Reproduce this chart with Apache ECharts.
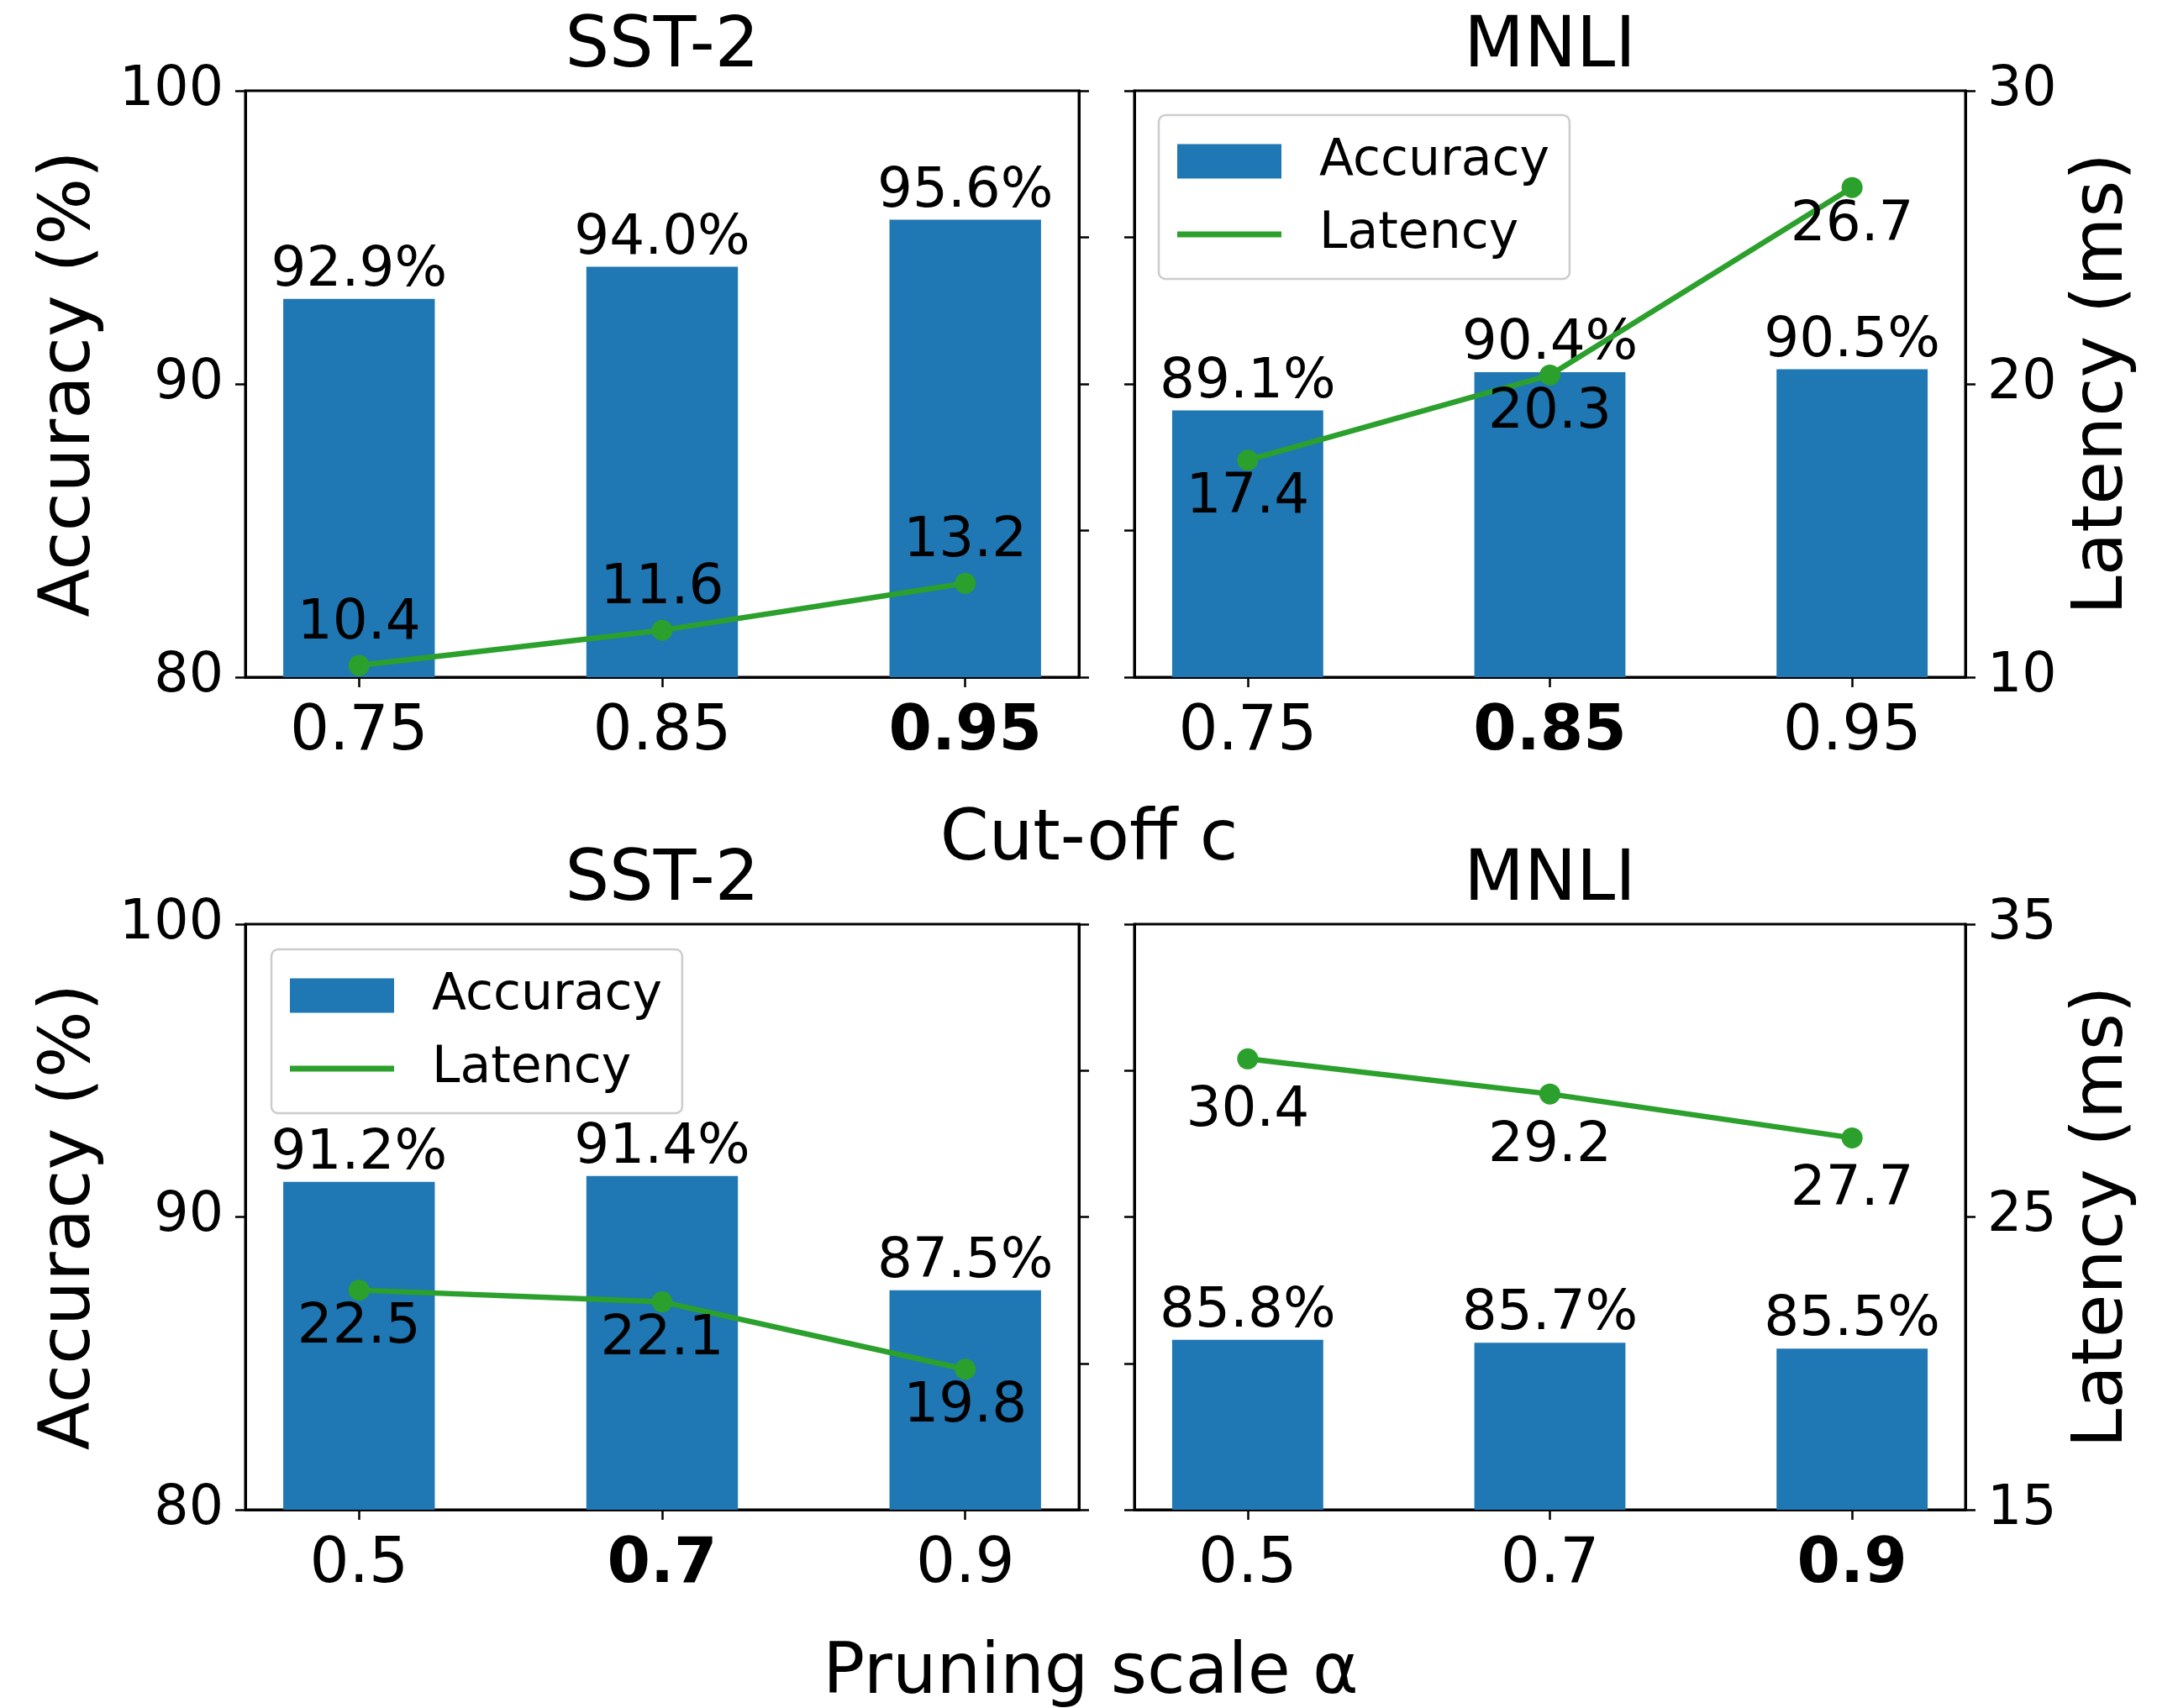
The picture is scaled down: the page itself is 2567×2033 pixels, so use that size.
<!DOCTYPE html>
<html>
<head>
<meta charset="utf-8">
<script src="https://cdn.jsdelivr.net/npm/echarts@6/dist/echarts.min.js"></script>
<style>
html,body{margin:0;padding:0;background:#fff;}
#chart{width:2567px;height:2033px;}
</style>
</head>
<body>
<div id="chart"></div>
<script>
// ---- data ----
const cutoffCats = ['0.75', '0.85', '0.95'];
const pruneCats = ['0.5', '0.7', '0.9'];
const sstCutAcc = [92.9, 94.0, 95.6];
const sstCutLat = [10.4, 11.6, 13.2];
const mnliCutAcc = [89.1, 90.4, 90.5];
const mnliCutLat = [17.4, 20.3, 26.7];
const sstPruneAcc = [91.2, 91.4, 87.5];
const sstPruneLat = [22.5, 22.1, 19.8];
const mnliPruneAcc = [85.8, 85.7, 85.5];
const mnliPruneLat = [30.4, 29.2, 27.7];
const accTicksRange = [80, 100];
const latRangeCut = [10, 30];
const latRangePrune = [15, 35];

const FONT = 'DejaVu Sans';
const BLUE = '#1f77b4';
const GREEN = '#2ca02c';

const panels = [
  {left: 292, top: 108, width: 992, height: 698, cats: cutoffCats, acc: sstCutAcc, lat: sstCutLat, latR: latRangeCut, isLeft: true, bold: 2, lpos: 'top', ldist: 4, title: 'SST-2'},
  {left: 1350, top: 108, width: 989, height: 698, cats: cutoffCats, acc: mnliCutAcc, lat: mnliCutLat, latR: latRangeCut, isLeft: false, bold: 1, lpos: 'bottom', ldist: 0, title: 'MNLI'},
  {left: 292, top: 1100, width: 992, height: 697, cats: pruneCats, acc: sstPruneAcc, lat: sstPruneLat, latR: latRangePrune, isLeft: true, bold: 1, lpos: 'bottom', ldist: 0, title: 'SST-2'},
  {left: 1350, top: 1100, width: 989, height: 697, cats: pruneCats, acc: mnliPruneAcc, lat: mnliPruneLat, latR: latRangePrune, isLeft: false, bold: 2, lpos: 'bottom', ldist: 17, title: 'MNLI'}
];

const XMIN = -0.375, XMAX = 2.375;
const grid = [], xAxis = [], yAxis = [], series = [], graphic = [];
const axisLineStyle = {color: '#000', width: 3};
const tickStyle = {color: '#000', width: 2.5};

panels.forEach((p, i) => {
  grid.push({left: p.left, top: p.top, width: p.width, height: p.height, show: true, borderColor: '#000', borderWidth: 3, backgroundColor: 'transparent'});
  xAxis.push({
    gridIndex: i, type: 'value', min: XMIN, max: XMAX,
    axisLine: {show: true, lineStyle: axisLineStyle, onZero: false},
    axisTick: {show: true, length: 12, lineStyle: tickStyle, customValues: [0, 1, 2]},
    axisLabel: {
      show: true, margin: 30, fontSize: 74, fontFamily: FONT, color: '#000',
      customValues: [0, 1, 2],
      formatter: (v) => { const k = Math.round(v); return k === p.bold ? '{b|' + p.cats[k] + '}' : p.cats[k]; },
      rich: {b: {fontSize: 74, fontWeight: 'bold', fontFamily: FONT, color: '#000'}}
    },
    splitLine: {show: false}
  });
  // accuracy axis (left)
  yAxis.push({
    gridIndex: i, type: 'value', position: 'left', min: accTicksRange[0], max: accTicksRange[1],
    interval: p.isLeft ? 10 : 5,
    axisLine: {show: true, lineStyle: axisLineStyle, onZero: false},
    axisTick: {show: true, length: 12, lineStyle: tickStyle},
    axisLabel: {show: p.isLeft, margin: 26, fontSize: 65, fontFamily: FONT, color: '#000'},
    splitLine: {show: false},
    name: p.isLeft ? 'Accuracy (%)' : '', nameLocation: 'middle', nameRotate: 90, nameGap: 166,
    nameTextStyle: {fontSize: 84, fontFamily: FONT, color: '#000'}
  });
  // latency axis (right)
  yAxis.push({
    gridIndex: i, type: 'value', position: 'right', min: p.latR[0], max: p.latR[1],
    interval: p.isLeft ? 5 : 10,
    axisLine: {show: true, lineStyle: axisLineStyle, onZero: false},
    axisTick: {show: true, length: 12, lineStyle: tickStyle},
    axisLabel: {show: !p.isLeft, margin: 26, fontSize: 65, fontFamily: FONT, color: '#000'},
    splitLine: {show: false},
    name: p.isLeft ? '' : 'Latency (ms)', nameLocation: 'middle', nameRotate: 90, nameGap: 122,
    nameTextStyle: {fontSize: 84, fontFamily: FONT, color: '#000'}
  });
  const barW = p.width * 0.5 / (XMAX - XMIN);
  series.push({
    name: 'Accuracy', type: 'bar', xAxisIndex: i, yAxisIndex: 2 * i,
    data: p.acc.map((v, k) => [k, v]),
    barWidth: barW,
    itemStyle: {color: BLUE},
    label: {show: true, position: 'top', distance: 0, fontSize: 66, lineHeight: 66, fontFamily: FONT, color: '#000',
      formatter: (d) => d.value[1].toFixed(1) + '%'},
    z: 2
  });
  series.push({
    name: 'Latency', type: 'line', xAxisIndex: i, yAxisIndex: 2 * i + 1,
    data: p.lat.map((v, k) => [k, v]),
    lineStyle: {color: GREEN, width: 6.5},
    itemStyle: {color: GREEN},
    symbol: 'circle', symbolSize: 25,
    label: {show: true, position: p.lpos, distance: p.ldist, fontSize: 66, lineHeight: 66, fontFamily: FONT, color: '#000',
      formatter: (d) => d.value[1].toFixed(1)},
    z: 3
  });
  graphic.push({type: 'text', x: p.left + p.width / 2, y: p.top - 51,
    style: {text: p.title, font: '83px "DejaVu Sans"', fill: '#000', textAlign: 'center', textVerticalAlign: 'middle'}});
});

graphic.push({type: 'text', x: 1296, y: 1001,
  style: {text: 'Cut-off c', font: '83px "DejaVu Sans"', fill: '#000', textAlign: 'center', textVerticalAlign: 'middle'}});
graphic.push({type: 'text', x: 1298, y: 1993,
  style: {text: 'Pruning scale α', font: '83px "DejaVu Sans"', fill: '#000', textAlign: 'center', textVerticalAlign: 'middle'}});

const legendBase = {
  orient: 'vertical', itemWidth: 124, itemHeight: 41, itemGap: 17,
  padding: [20, 24, 18, 22],
  borderColor: '#cccccc', borderWidth: 2.5, borderRadius: 8,
  backgroundColor: 'rgba(255,255,255,0.8)',
  selectedMode: false,
  textStyle: {fontSize: 60, fontFamily: FONT, color: '#000', lineHeight: 70, padding: [0, 0, 0, 40]},
  data: [
    {name: 'Accuracy', icon: 'rect', itemStyle: {color: BLUE}},
    {name: 'Latency', icon: 'path://M0,0L18,0L18,1L0,1Z', itemStyle: {color: GREEN}}
  ]
};
const legend = [
  Object.assign({}, legendBase, {left: 1379, top: 137}),
  Object.assign({}, legendBase, {left: 323, top: 1130})
];

const chart = echarts.init(document.getElementById('chart'), null, {renderer: 'canvas'});
chart.setOption({
  animation: false,
  backgroundColor: '#fff',
  grid, xAxis, yAxis, series, legend, graphic
});
</script>
</body>
</html>
